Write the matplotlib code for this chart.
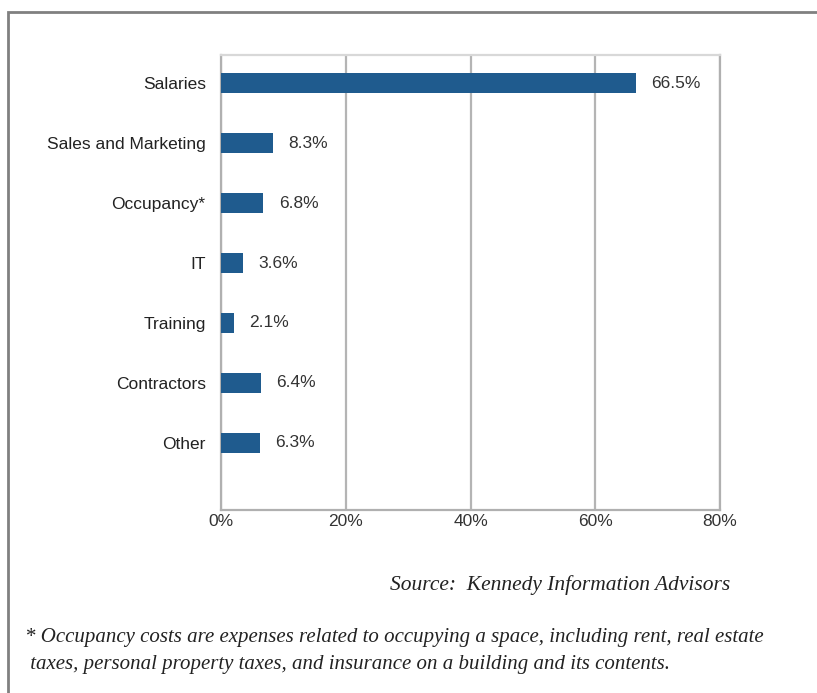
"""
Expense breakdown bar chart (Kennedy Information Advisors)
"""
import matplotlib
matplotlib.use('Agg')
import matplotlib.pyplot as plt
from matplotlib.patches import Rectangle

categories = ['Salaries', 'Sales and Marketing', 'Occupancy*', 'IT',
              'Training', 'Contractors', 'Other']
shares = [66.5, 8.3, 6.8, 3.6, 2.1, 6.4, 6.3]
x_ticks = [0, 20, 40, 60, 80]
x_tick_labels = ['0%', '20%', '40%', '60%', '80%']

source_text = 'Source:  Kennedy Information Advisors'
footnote = ('* Occupancy costs are expenses related to occupying a space, including rent, real estate\n'
            ' taxes, personal property taxes, and insurance on a building and its contents.')

plt.rcParams['font.family'] = ['Liberation Sans', 'DejaVu Sans']

fig = plt.figure(figsize=(8.17, 6.93), dpi=100)
ax = fig.add_axes([0.2705, 0.2641, 0.6108, 0.6565])

bar_color = '#1f5b8e'
positions = list(range(len(categories)))
ax.barh(positions, shares, height=0.34, color=bar_color, zorder=3)

for y, v in zip(positions, shares):
    ax.annotate(f'{v}%', xy=(v, y), xytext=(11, 0), textcoords='offset points',
                va='center', ha='left', fontsize=12.5, color='#333333')

ax.set_xlim(0, 80)
ax.set_ylim(len(categories) - 1 + 1.12, -0.47)
ax.set_xticks(x_ticks)
ax.set_xticklabels(x_tick_labels, fontsize=12.5, color='#333333')
ax.set_yticks(positions)
ax.set_yticklabels(categories, fontsize=12.5, color='#222222')
ax.tick_params(axis='both', length=0)
ax.tick_params(axis='y', pad=11)
ax.tick_params(axis='x', pad=3)

ax.grid(axis='x', color='#b4b4b4', linewidth=1.6, zorder=0)
for side in ['left', 'bottom', 'right']:
    ax.spines[side].set_color('#b0b0b0')
    ax.spines[side].set_linewidth(1.6)
ax.spines['top'].set_color('#d8d8d8')
ax.spines['top'].set_linewidth(1.6)

# outer frame of the exhibit
fig.patches.append(Rectangle((8 / 817, -0.05), 1.1, 1 - 12 / 693 + 0.05,
                             transform=fig.transFigure, fill=False,
                             edgecolor='#808080', linewidth=2))

fig.text(730 / 817, 1 - 585 / 693, source_text, ha='right', va='center',
         family='Liberation Serif', style='italic', fontsize=15.5, color='#222222')
fig.text(25 / 817, 1 - 651 / 693, footnote, ha='left', va='center',
         family='Liberation Serif', style='italic', fontsize=15, color='#222222',
         linespacing=1.55)

plt.savefig('out.png', dpi=100)
